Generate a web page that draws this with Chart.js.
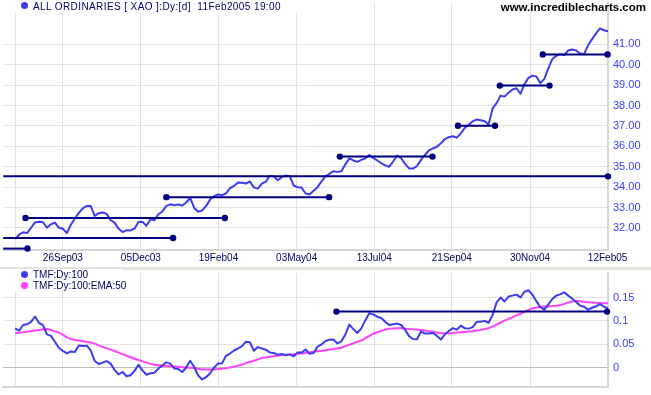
<!DOCTYPE html>
<html>
<head>
<meta charset="utf-8">
<script src="https://cdn.jsdelivr.net/npm/chart.js@4.4.1/dist/chart.umd.min.js"></script>
<style>
  body { margin: 0; background: #fff; width: 651px; height: 395px; position: relative; overflow: hidden;
         font-family: Arial, "Liberation Sans", sans-serif; }
  canvas { position: absolute; left: 0; }
  #priceChart { top: 0; }
  #tmfChart { top: 270px; }
  .sep { position: absolute; left: 0; top: 267px; width: 651px; height: 3px; background: #e4e4dc; }
  .legend { position: absolute; background: #fff; color: #000066; font-size: 10px; white-space: nowrap; }
  .legend div { position: relative; height: 11px; line-height: 11px; padding-left: 33px; }
  .legend i { position: absolute; left: 21px; top: 2px; width: 7px; height: 7px; border-radius: 50%; }
  .site { position: absolute; right: 5px; top: 0; font-size: 11.5px; font-weight: bold; color: #000; line-height: 14px; }
</style>
</head>
<body>
<canvas id="priceChart" width="651" height="268"></canvas>
<div class="sep"></div>
<canvas id="tmfChart" width="651" height="125"></canvas>

<div class="legend" style="left:0;top:0;width:300px;height:13px;">
  <div style="letter-spacing:0.4px;padding-top:1px"><i style="background:#3c3cf0"></i>ALL ORDINARIES [ XAO ]:Dy:[d]&nbsp; 11Feb2005 19:00</div>
</div>
<div class="site">www.incrediblecharts.com</div>
<div class="legend" style="left:0;top:269px;width:122px;height:22px;">
  <div><i style="background:#3c3cf0"></i>TMF:Dy:100</div>
  <div><i style="background:#ff40ff"></i>TMF:Dy:100:EMA:50</div>
</div>

<script>
// one sample every ~2.5 trading days, Aug 2003 - Feb 2005
const priceClose = [
  31.46, 31.67, 31.79, 31.75, 32.01, 32.27, 32.30, 32.28, 32.01, 32.18,
  32.26, 32.01, 31.96, 31.75, 32.16, 32.45, 32.74, 32.96, 33.08, 33.08,
  32.59, 32.72, 32.76, 32.69, 32.38, 32.26, 31.96, 31.80, 31.89, 31.88,
  31.96, 32.29, 32.30, 32.11, 32.43, 32.38, 32.67, 32.81, 33.08, 33.16,
  33.11, 33.15, 33.10, 33.25, 33.47, 32.98, 32.80, 32.86, 33.08, 33.39,
  33.56, 33.64, 33.61, 33.69, 33.95, 34.06, 34.23, 34.22, 34.18, 34.28,
  33.99, 33.93, 34.17, 34.27, 34.56, 34.53, 34.34, 34.49, 34.57, 34.54,
  34.08, 34.00, 33.98, 33.69, 33.64, 33.83, 34.00, 34.29, 34.53, 34.66,
  34.78, 34.75, 34.78, 35.12, 35.41, 35.31, 35.24, 35.34, 35.41, 35.58,
  35.43, 35.31, 35.18, 35.07, 35.00, 35.26, 35.55, 35.42, 35.14, 34.92,
  34.91, 35.04, 35.34, 35.59, 35.80, 35.90, 35.98, 36.15, 36.36, 36.45,
  36.50, 36.43, 36.63, 36.91, 37.06, 37.23, 37.32, 37.28, 37.23, 37.08,
  37.86, 38.12, 38.49, 38.44, 38.63, 38.79, 38.85, 38.58, 39.05, 39.36,
  39.47, 39.43, 39.10, 39.31, 39.82, 40.28, 40.44, 40.52, 40.48, 40.70,
  40.75, 40.70, 40.55, 40.52, 40.96, 41.26, 41.54, 41.79, 41.69, 41.64
];
const tmf = [
  0.0842, 0.0795, 0.0913, 0.0929, 0.0981, 0.1095, 0.0956, 0.0913, 0.0712, 0.0680,
  0.0556, 0.0421, 0.0359, 0.0307, 0.0349, 0.0334, 0.0477, 0.0463, 0.0473, 0.0369,
  0.0145, 0.0079, 0.0110, 0.0141, 0.0089, -0.0046, -0.0143, -0.0091, -0.0180, -0.0160,
  -0.0066, 0.0062, -0.0056, -0.0149, -0.0118, -0.0108, -0.0015, 0.0048, 0.0116, 0.0089,
  -0.0015, -0.0025, -0.0091, 0.0006, 0.0151, 0.0017, -0.0166, -0.0249, -0.0201, -0.0118,
  0.0006, 0.0089, 0.0095, 0.0255, 0.0303, 0.0369, 0.0411, 0.0463, 0.0556, 0.0546,
  0.0363, 0.0442, 0.0411, 0.0384, 0.0328, 0.0317, 0.0276, 0.0297, 0.0266, 0.0286,
  0.0245, 0.0328, 0.0324, 0.0390, 0.0297, 0.0317, 0.0452, 0.0498, 0.0573, 0.0598,
  0.0602, 0.0519, 0.0566, 0.0712, 0.0921, 0.0826, 0.0743, 0.0842, 0.1012, 0.1162,
  0.1141, 0.1091, 0.1064, 0.0981, 0.0915, 0.0929, 0.0946, 0.0913, 0.0815, 0.0676,
  0.0614, 0.0608, 0.0774, 0.0732, 0.0732, 0.0743, 0.0680, 0.0602, 0.0712, 0.0784,
  0.0846, 0.0815, 0.0898, 0.0846, 0.0836, 0.0867, 0.0981, 0.0981, 0.1002, 0.0961,
  0.1127, 0.1396, 0.1500, 0.1417, 0.1521, 0.1541, 0.1562, 0.1500, 0.1624, 0.1656,
  0.1562, 0.1423, 0.1293, 0.1241, 0.1355, 0.1469, 0.1541, 0.1568, 0.1614, 0.1541,
  0.1479, 0.1407, 0.1328, 0.1303, 0.1241, 0.1282, 0.1313, 0.1361, 0.1303, 0.1272
];
const tmfEma = [
  0.0739, 0.0749, 0.0759, 0.0772, 0.0782, 0.0795, 0.0809, 0.0822, 0.0826, 0.0805,
  0.0778, 0.0753, 0.0705, 0.0649, 0.0614, 0.0595, 0.0581, 0.0566, 0.0552, 0.0539,
  0.0515, 0.0477, 0.0442, 0.0415, 0.0388, 0.0359, 0.0324, 0.0290, 0.0257, 0.0224,
  0.0193, 0.0166, 0.0137, 0.0110, 0.0083, 0.0064, 0.0056, 0.0048, 0.0039, 0.0031,
  0.0025, 0.0019, 0.0012, 0.0006, 0.0002, -0.0006, -0.0021, -0.0035, -0.0035, -0.0035,
  -0.0035, -0.0029, -0.0021, -0.0008, 0.0006, 0.0023, 0.0046, 0.0068, 0.0100, 0.0124,
  0.0151, 0.0180, 0.0207, 0.0222, 0.0234, 0.0247, 0.0259, 0.0270, 0.0276, 0.0282,
  0.0288, 0.0297, 0.0303, 0.0317, 0.0332, 0.0342, 0.0351, 0.0359, 0.0373, 0.0388,
  0.0400, 0.0415, 0.0427, 0.0463, 0.0492, 0.0521, 0.0552, 0.0581, 0.0633, 0.0683,
  0.0726, 0.0759, 0.0788, 0.0815, 0.0832, 0.0840, 0.0842, 0.0842, 0.0836, 0.0826,
  0.0820, 0.0815, 0.0809, 0.0795, 0.0780, 0.0768, 0.0753, 0.0739, 0.0739, 0.0739,
  0.0743, 0.0751, 0.0759, 0.0766, 0.0772, 0.0780, 0.0795, 0.0809, 0.0828, 0.0846,
  0.0878, 0.0923, 0.0967, 0.1006, 0.1046, 0.1083, 0.1118, 0.1154, 0.1195, 0.1237,
  0.1268, 0.1286, 0.1303, 0.1307, 0.1311, 0.1317, 0.1326, 0.1342, 0.1365, 0.1396,
  0.1417, 0.1429, 0.1421, 0.1409, 0.1400, 0.1394, 0.1388, 0.1382, 0.1378, 0.1376
];

// date axis (positions in sample index)
const dateTicks = [0, 12, 31.6, 51.1, 70.75, 90.25, 109.75, 129.4, 148.9];
const dateLabels = ['', '26Sep03', '05Dec03', '19Feb04', '03May04', '13Jul04', '21Sep04', '30Nov04', '12Feb05'];
const priceTicks = [32, 33, 34, 35, 36, 37, 38, 39, 40, 41];
const tmfTicks = [0, 0.05, 0.1, 0.15];

// trend / support lines: [level, from, to]
const priceLines = [
  [30.99, -3, 3.1],
  [31.51, -3, 39.7],
  [32.49, 2.6, 52.7],
  [33.51, 38, 78.9],
  [34.53, -3, 149],
  [35.50, 81.6, 104.9],
  [37.01, 111.3, 120.6],
  [38.98, 121.8, 134.3],
  [40.51, 132.6, 148.9]
];
const tmfLines = [[0.12, 80.75, 148.75]];

const X_MIN = -3, X_MAX = 149;
const NAVY = '#000080';
const BLUE = '#3c3cf0';
const PINK = '#ff40ff';
const GRID = '#e2e2e2';
const FONT = 'Arial, "Liberation Sans", sans-serif';

Chart.defaults.font.family = FONT;

const points = arr => arr.map((y, i) => ({ x: i, y }));

const levelSets = lines => lines.map(([level, from, to]) => ({
  data: [{ x: from, y: level }, { x: to, y: level }],
  borderColor: NAVY,
  backgroundColor: NAVY,
  borderWidth: 2,
  pointRadius: [from > X_MIN ? 3.2 : 0, 3.2],
  pointBorderWidth: 0,
  pointHoverRadius: 0,
  clip: false,
}));

const lineSet = (arr, color) => ({
  data: points(arr),
  borderColor: color,
  borderWidth: 2,
  pointRadius: 0,
  tension: 0,
  borderJoinStyle: 'round',
});

const xScale = (showLabels, height) => ({
  type: 'linear',
  min: X_MIN,
  max: X_MAX,
  afterBuildTicks: (s) => { s.ticks = dateTicks.map(v => ({ value: v })); },
  afterFit: (s) => { s.height = height; s.paddingLeft = 0; s.paddingRight = 0; },
  grid: { color: GRID, drawTicks: false },
  border: { display: true, color: '#d6d6d6', width: 2 },
  ticks: {
    display: showLabels,
    autoSkip: false,
    maxRotation: 0,
    padding: 2,
    color: '#000066',
    font: { size: 10 },
    callback: (v, i) => dateLabels[i],
  },
});

const yScale = (min, max, ticks, fmt, gridColor) => ({
  position: 'right',
  min,
  max,
  afterBuildTicks: (s) => { s.ticks = ticks.map(v => ({ value: v })); },
  afterFit: (s) => { s.width = 43; s.paddingTop = 0; s.paddingBottom = 0; },
  grid: { color: gridColor, drawTicks: false },
  border: { display: true, color: '#d6d6d6', width: 2 },
  ticks: { padding: 5, color: '#3c3cff', font: { size: 11 }, callback: fmt },
});

const baseOptions = {
  responsive: false,
  animation: false,
  devicePixelRatio: 1,
  layout: { padding: 0 },
  plugins: { legend: { display: false }, tooltip: { enabled: false } },
  events: [],
};

new Chart(document.getElementById('priceChart'), {
  type: 'line',
  data: {
    datasets: [...levelSets(priceLines), lineSet(priceClose, BLUE)],
  },
  options: {
    ...baseOptions,
    scales: {
      x: xScale(true, 18),
      y: yScale(30.92, 43.02, priceTicks, v => v.toFixed(2), GRID),
    },
  },
});

new Chart(document.getElementById('tmfChart'), {
  type: 'line',
  data: {
    datasets: [...levelSets(tmfLines), lineSet(tmf, BLUE), lineSet(tmfEma, PINK)],
  },
  options: {
    ...baseOptions,
    scales: {
      x: xScale(false, 8),
      y: yScale(-0.0411, 0.202, tmfTicks, v => String(v),
        ctx => (ctx.tick && ctx.tick.value === 0 ? '#bdbdbd' : GRID)),
    },
  },
});
</script>
</body>
</html>
